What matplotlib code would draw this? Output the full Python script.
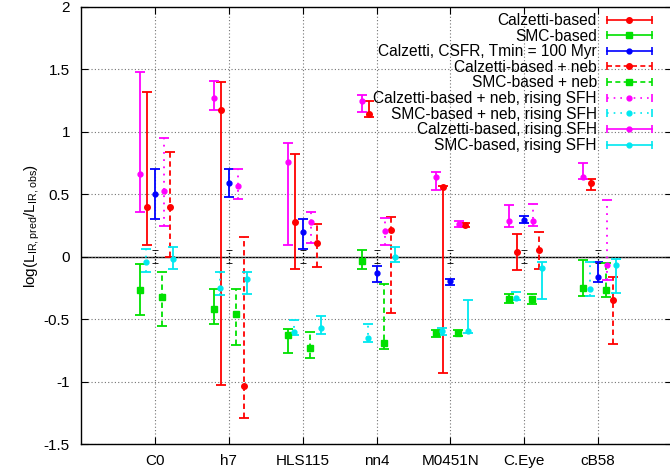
import matplotlib
matplotlib.use("Agg")
import matplotlib.pyplot as plt
from matplotlib.legend_handler import HandlerBase
from matplotlib.lines import Line2D
from matplotlib.ticker import FormatStrFormatter

plt.rcParams["font.family"] = ["Liberation Sans", "DejaVu Sans"]
plt.rcParams["axes.unicode_minus"] = False

galaxies = ["C0", "h7", "HLS115", "nn4", "M0451N", "C.Eye", "cB58"]

# (center, lower bound, upper bound) for each model
calz = [0.40, 1.175, 0.28, 1.14, 0.56, 0.036, 0.59]
calz_lo = [0.09, -1.03, -0.10, 1.117, -0.93, -0.11, 0.535]
calz_hi = [1.32, 1.40, 0.82, 1.25, 0.57, 0.18, 0.625]

smc = [-0.27, -0.42, -0.63, -0.036, -0.61, -0.34, -0.25]
smc_lo = [-0.47, -0.54, -0.77, -0.095, -0.64, -0.37, -0.316]
smc_hi = [-0.06, -0.26, -0.58, 0.05, -0.586, -0.30, -0.03]

csfr = [0.50, 0.59, 0.20, -0.127, -0.196, 0.292, -0.16]
csfr_lo = [0.305, 0.475, 0.065, -0.20, -0.225, 0.273, -0.20]
csfr_hi = [0.70, 0.70, 0.30, -0.074, -0.175, 0.327, -0.045]

calz_neb = [0.40, -1.035, 0.108, 0.21, 0.257, 0.054, -0.35]
calz_neb_lo = [0.0, -1.29, -0.08, -0.45, 0.24, -0.095, -0.70]
calz_neb_hi = [0.84, 0.16, 0.26, 0.32, 0.273, 0.196, -0.164]

smc_neb = [-0.32, -0.46, -0.73, -0.69, -0.61, -0.34, -0.27]
smc_neb_lo = [-0.555, -0.705, -0.81, -0.74, -0.635, -0.38, -0.32]
smc_neb_hi = [-0.125, -0.26, -0.605, -0.22, -0.59, -0.30, -0.05]

calz_neb_rise = [0.53, 0.57, 0.28, 0.207, 0.262, 0.287, -0.07]
calz_neb_rise_lo = [0.25, 0.465, 0.108, 0.097, 0.24, 0.246, -0.19]
calz_neb_rise_hi = [0.95, 0.70, 0.36, 0.31, 0.29, 0.42, 0.455]

smc_neb_rise = [-0.045, -0.25, -0.60, -0.65, -0.597, -0.33, -0.26]
smc_neb_rise_lo = [-0.125, -0.31, -0.625, -0.68, -0.625, -0.35, -0.316]
smc_neb_rise_hi = [0.06, -0.125, -0.51, -0.535, -0.57, -0.28, -0.045]

calz_rise = [0.66, 1.27, 0.757, 1.247, 0.64, 0.287, 0.64]
calz_rise_lo = [0.36, 1.175, 0.097, 1.157, 0.535, 0.24, 0.625]
calz_rise_hi = [1.48, 1.41, 0.914, 1.295, 0.68, 0.417, 0.75]

smc_rise = [-0.02, -0.18, -0.57, 0.0, -0.595, -0.09, -0.07]
smc_rise_lo = [-0.095, -0.30, -0.62, -0.04, -0.61, -0.335, -0.29]
smc_rise_hi = [0.076, -0.125, -0.475, 0.076, -0.346, -0.045, -0.02]

# reference point (observed) at zero
obs = [0, 0, 0, 0, 0, 0, 0]
obs_err = [0.05, 0.05, 0.05, 0.05, 0.05, 0.05, 0.05]

DASHED = (0, (3, 2))
DOTTED = (0, (1, 3))

series = [
    ("Calzetti-based", calz, calz_lo, calz_hi, -0.1, "#ff0000", "-", "o", 4),
    ("SMC-based", smc, smc_lo, smc_hi, -0.2, "#00e000", "-", "s", 5),
    ("Calzetti, CSFR, Tmin = 100 Myr", csfr, csfr_lo, csfr_hi, 0.0, "#0000ff", "-", "o", 3.5),
    ("Calzetti-based + neb", calz_neb, calz_neb_lo, calz_neb_hi, 0.2, "#ff0000", DASHED, "o", 4),
    ("SMC-based + neb", smc_neb, smc_neb_lo, smc_neb_hi, 0.1, "#00e000", DASHED, "s", 5),
    ("Calzetti-based + neb, rising SFH", calz_neb_rise, calz_neb_rise_lo, calz_neb_rise_hi,
     0.12, "#ff00ff", DOTTED, "o", 3.5),
    ("SMC-based + neb, rising SFH", smc_neb_rise, smc_neb_rise_lo, smc_neb_rise_hi,
     -0.115, "#00e8f0", DOTTED, "o", 3.5),
    ("Calzetti-based, rising SFH", calz_rise, calz_rise_lo, calz_rise_hi, -0.2, "#ff00ff", "-", "o", 3.5),
    ("SMC-based, rising SFH", smc_rise, smc_rise_lo, smc_rise_hi, 0.245, "#00e8f0", "-", "o", 3.5),
]


class HandlerHBar(HandlerBase):
    """gnuplot-like legend sample: horizontal bar with end caps and a centre marker."""

    def create_artists(self, legend, orig, xdescent, ydescent, width, height, fontsize, trans):
        y = height / 2 - ydescent
        x0, x1 = -xdescent, width - xdescent
        col = orig.get_color()
        line = Line2D([x0, x1], [y, y])
        line.update_from(orig)
        line.set_marker("None")
        line.set_linewidth(1.2)
        caps = Line2D([x0, x1], [y, y], color=col, linestyle="none", marker="|",
                      markersize=6, markeredgewidth=1.2)
        mark = Line2D([(x0 + x1) / 2], [y], color=col, linestyle="none",
                      marker=orig.get_marker(), markersize=orig.get_markersize())
        for a in (line, caps, mark):
            a.set_transform(trans)
        return [line, caps, mark]


fig = plt.figure(figsize=(6.7, 4.71), dpi=100)
ax = fig.add_axes([81 / 670, 27 / 471, 591 / 670, 437 / 471])

x = list(range(1, len(galaxies) + 1))

ob = ax.errorbar(x, obs, yerr=obs_err, fmt="none", ecolor="black", elinewidth=0.9,
                 capsize=2.5, capthick=0.6, zorder=2)
ob[2][0].set_linestyle((0, (1, 1.5)))

handles = []
for label, c, lo, hi, off, col, ls, mk, ms in series:
    xs = [xi + off for xi in x]
    err = [[ci - l for ci, l in zip(c, lo)], [h - ci for ci, h in zip(c, hi)]]
    eb = ax.errorbar(xs, c, yerr=err, fmt=mk, color=col, markersize=ms, ecolor=col,
                     elinewidth=1.3, capsize=3.5, capthick=1.3, zorder=3)
    eb[2][0].set_linestyle(ls)
    handles.append(Line2D([], [], color=col, linestyle=ls, marker=mk, markersize=ms, label=label))

ax.axhline(0, color="black", linewidth=1.0, zorder=1)

ax.set_xlim(0, 8)
ax.set_ylim(-1.5, 2)
ax.set_xticks(x)
ax.set_xticklabels(galaxies)
ax.set_yticks([-1.5, -1, -0.5, 0, 0.5, 1, 1.5, 2])
ax.yaxis.set_major_formatter(FormatStrFormatter("%g"))
ax.tick_params(direction="in", top=True, right=True, length=5, width=0.8, labelsize=11)
ax.tick_params(axis="y", pad=8)
ax.tick_params(axis="x", pad=7)
ax.grid(True, color="0.45", linestyle=(0, (1, 2)), linewidth=0.8)
for s in ax.spines.values():
    s.set_linewidth(1.0)

ax.set_ylabel(r"log(L$_\mathregular{IR,pred}$/L$_\mathregular{IR,obs}$)", fontsize=11, labelpad=1)

leg = ax.legend(handles=handles, handler_map={Line2D: HandlerHBar()}, loc="upper right",
                bbox_to_anchor=(652 / 670, (471 - 13) / 471), bbox_transform=fig.transFigure,
                frameon=False, markerfirst=False, fontsize=11.2, handlelength=2.9,
                handletextpad=0.65, labelspacing=0.04, borderaxespad=0, borderpad=0,
                alignment="right")

fig.savefig("out.png", dpi=100)
